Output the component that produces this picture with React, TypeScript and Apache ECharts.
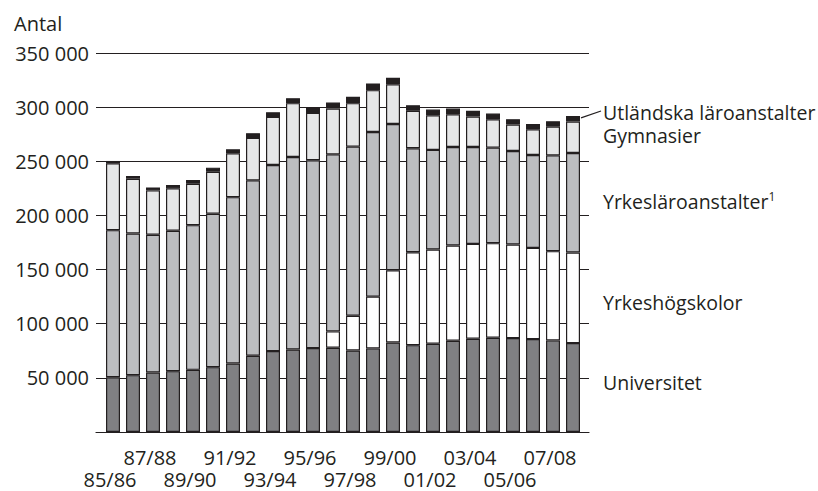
import React, { useEffect, useRef } from "react";
import * as echarts from "echarts";

const categories = [
  "85/86", "86/87", "87/88", "88/89", "89/90", "90/91", "91/92", "92/93",
  "93/94", "94/95", "95/96", "96/97", "97/98", "98/99", "99/00", "00/01",
  "01/02", "02/03", "03/04", "04/05", "05/06", "06/07", "07/08", "08/09",
];

const universitet = [
  50600, 52500, 54900, 56200, 57400, 59900, 63300, 70400, 74700, 76200, 77500, 77800,
  75300, 77200, 82700, 80200, 81500, 84200, 86100, 87000, 86700, 85800, 84600, 82100,
];
const yrkeshogskolor = [
  null, null, null, null, null, null, null, null, null, null, null, 15100,
  32100, 47800, 66700, 85800, 87000, 88000, 87600, 87400, 86400, 84200, 82400, 83600,
];
const yrkeslaroanstalter = [
  135800, 130800, 127200, 129600, 133600, 141600, 153600, 162000, 171900, 177800, 173400, 163500,
  156100, 152100, 135100, 96000, 92000, 91000, 89500, 88200, 86400, 85800, 88500, 92000,
];
const gymnasier = [
  61700, 50600, 41000, 39200, 38300, 38900, 40500, 39200, 44400, 49700, 43800, 42300,
  40200, 38600, 36700, 34600, 32000, 30300, 28100, 26200, 24400, 23800, 26500, 29000,
];
const utlandska = [
  2200, 2500, 2800, 3000, 3400, 3700, 3700, 4300, 4300, 4600, 4600, 5600,
  5800, 6200, 5900, 5200, 5300, 5200, 5300, 5300, 4900, 4900, 5000, 5200,
];

const seriesNames = [
  "Universitet",
  "Yrkeshögskolor",
  "Yrkesläroanstalter",
  "Gymnasier",
  "Utländska läroanstalter",
];
const seriesData = [universitet, yrkeshogskolor, yrkeslaroanstalter, gymnasier, utlandska];
const seriesColors = ["#808083", "#ffffff", "#bcbdc0", "#e6e7e8", "#231f20"];

const yMax = 350000;
const yStep = 50000;

const FONT = "Open Sans";
const INK = "#231f20";

export default function App() {
  const ref = useRef<HTMLDivElement>(null);

  useEffect(() => {
    if (!ref.current) return;
    const chart = echarts.init(ref.current, null, { renderer: "svg" });

    const labelStyle = {
      color: INK,
      fontFamily: FONT,
      fontSize: 20,
      lineHeight: 20,
    };

    const option: any = {
      animation: false,
      backgroundColor: "#ffffff",
      grid: [
        { left: 103, right: 235, top: 53, bottom: 59 },
        { left: 96, right: 229, top: 53, bottom: 59 },
      ],
      xAxis: [
        {
          type: "category",
          gridIndex: 0,
          data: categories,
          axisLine: { show: false },
          axisTick: { show: false },
          axisLabel: {
            ...labelStyle,
            margin: 15,
            padding: [0, 6, 0, 0],
            interval: (i: number) => i % 4 === 2,
          },
        },
        {
          type: "category",
          gridIndex: 0,
          data: categories,
          position: "bottom",
          axisLine: { show: false },
          axisTick: { show: false },
          axisLabel: {
            ...labelStyle,
            margin: 37,
            padding: [0, 6, 0, 0],
            interval: (i: number) => i % 4 === 0,
          },
        },
        {
          type: "value",
          gridIndex: 1,
          min: 0,
          max: 1,
          axisLine: { show: true, lineStyle: { color: INK, width: 1.2 } },
          axisTick: { show: false },
          axisLabel: { show: false },
          splitLine: { show: false },
        },
      ],
      yAxis: [
        {
          type: "value",
          gridIndex: 0,
          min: 0,
          max: yMax,
          interval: yStep,
          show: false,
        },
        {
          type: "value",
          gridIndex: 1,
          min: 0,
          max: yMax,
          interval: yStep,
          axisLine: { show: false },
          axisTick: { show: false },
          axisLabel: {
            ...labelStyle,
            margin: 7,
            formatter: (v: number) =>
              v === 0 ? "" : String(v).replace(/\B(?=(\d{3})+(?!\d))/g, " "),
          },
          splitLine: { show: true, lineStyle: { color: INK, width: 1 } },
        },
      ],
      series: seriesNames.map((name, i) => ({
        name,
        type: "bar",
        stack: "total",
        xAxisIndex: 0,
        yAxisIndex: 0,
        barWidth: 14,
        data: seriesData[i],
        itemStyle: {
          color: seriesColors[i],
          borderColor: INK,
          borderWidth: 1.2,
        },
      })),
    };

    chart.setOption(option);

    const lastIdx = categories.length - 1;
    const total = seriesData.reduce((s, arr) => s + (arr[lastIdx] || 0), 0);
    const p = chart.convertToPixel({ xAxisIndex: 0, yAxisIndex: 0 } as any, [lastIdx, total]) as number[];
    const lx = 603;

    const textStyle = (text: string, y: number, extra: any = {}) => ({
      type: "text",
      x: lx,
      y,
      style: {
        text,
        fill: INK,
        fontFamily: FONT,
        fontSize: 19.5,
        lineHeight: 21,
        verticalAlign: "middle",
        align: "left",
        ...extra,
      },
    });

    chart.setOption({
      graphic: [
        {
          type: "text",
          x: 14,
          y: 23,
          style: {
            text: "Antal",
            fill: INK,
            fontFamily: FONT,
            fontSize: 20,
            verticalAlign: "middle",
          },
        },
        {
          type: "line",
          shape: { x1: p[0] + 8, y1: p[1] + 2, x2: lx - 2, y2: 111 },
          style: { stroke: INK, lineWidth: 1.2 },
        },
        textStyle("Utländska läroanstalter", 112),
        textStyle("Gymnasier", 135),
        textStyle("Yrkesläroanstalter{s|1}", 201, {
          rich: {
            s: { fontSize: 12, fontFamily: FONT, fill: INK, padding: [0, 0, 10, 0] },
          },
        }),
        textStyle("Yrkeshögskolor", 302),
        textStyle("Universitet", 382),
      ],
    });

    return () => chart.dispose();
  }, []);

  return (
    <div
      ref={ref}
      style={{ position: "fixed", left: 0, top: 0, width: 818, height: 491 }}
    />
  );
}
